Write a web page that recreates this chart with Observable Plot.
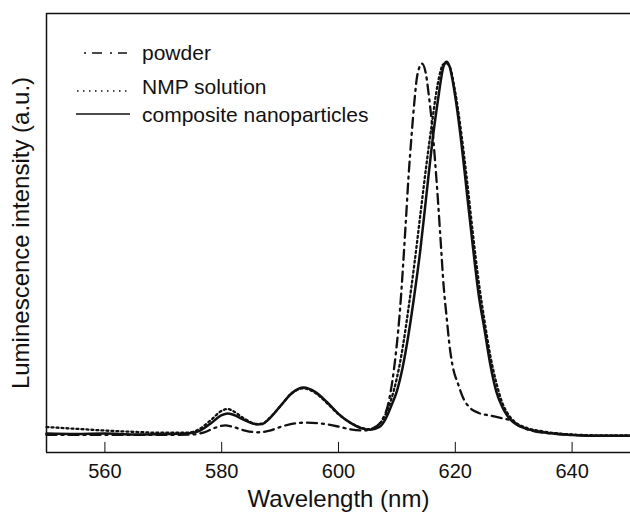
<!DOCTYPE html>
<html><head><meta charset="utf-8">
<script src="https://cdn.jsdelivr.net/npm/d3@7"></script>
<script src="https://cdn.jsdelivr.net/npm/@observablehq/plot@0.6"></script>
<style>
body{margin:0;background:#fff;}
#wrap{position:relative;width:630px;height:514px;font-family:"Liberation Sans",Arial,sans-serif;}
#legend{position:absolute;left:0;top:0;}
</style></head><body><div id="wrap"></div>
<script>
const seriesNames = ["powder", "NMP solution", "composite nanoparticles"];

const powderX = [550,560,570,575,577,579,580.6,582,584,586,588,590,592,594.5,597,600,602,604.3,606,607.5,608.5,609.5,610.5,611.5,612,612.5,613,613.5,614.3,615,615.5,616,616.5,617,617.5,618,618.5,619,619.5,620.5,621.5,622.5,624,626,628,629.5,631,633,636,640,645,650];
const powderY = [4.0,4.0,4.0,4.1,4.6,5.7,6.2,5.8,5.0,4.6,4.9,5.8,6.5,6.8,6.6,5.9,5.3,5.0,5.6,7.5,11,19,32,52,63,72,80,86,88.6,86,81,75,67,58,48,38,31,24.5,20,15.5,12,10.2,9.0,8.4,7.8,7.3,6.0,5.0,4.4,4.0,3.8,3.8];

const nmpX = [550,555,560,565,570,574,576,578,580,581,582,584,586,587,588,590,592,594,596,598,600,602,604,605.5,607,608,609,610,611,612,613,614,615,616,617,618,618.5,619,620,621,622,623,624,625,626,627,628,629,630,632,635,640,645,650];
const nmpY = [5.8,5.4,5.0,4.7,4.5,4.5,5.2,7.2,9.5,9.9,9.4,7.6,6.5,6.6,7.6,10.5,13.5,14.6,13.6,11.3,8.7,6.8,5.6,5.3,6.5,8.5,12,17,24,33,43,54,65,75,84,88.5,88.6,88,82,73,62,50,39,30,22,16,11.5,8.8,7.2,5.7,4.8,4.1,3.9,3.9];

const compX = [550,555,560,565,570,574,576,578,580,581,582,584,586,587,588,590,592,594,596,598,600,602,604,605.5,607,608,609,610,611,612,613,614,615,616,617,618,618.5,619,620,621,622,623,624,625,626,627,628,629,630,632,635,640,645,650];
const compY = [4.3,4.2,4.3,4.1,4.2,4.3,4.8,6.5,8.5,8.9,8.6,7.3,6.4,6.5,7.5,10.5,13.5,14.8,13.8,11.5,8.8,6.8,5.5,5.2,5.8,7.5,10.5,14,19.5,27,36,46,58,70,80,88,89,88,81,71,59,47,36,28,20,14,10.5,8.2,6.8,5.5,4.6,4.0,3.8,3.8];

const xTicks = [560, 580, 600, 620, 640];
const xDomain = [550, 650];
const yDomain = [0, 100];
const xTitle = "Wavelength (nm)";
const yTitle = "Luminescence intensity (a.u.)";

const toRows = (xs, ys, s) => xs.map((x, i) => ({series: s, x, y: ys[i]}));
const powder = toRows(powderX, powderY, seriesNames[0]);
const nmp = toRows(nmpX, nmpY, seriesNames[1]);
const comp = toRows(compX, compY, seriesNames[2]);

const ink = "#111";
const styles = [
  {dash: "10,5,2,5", width: 2.3, legDash: "2,6,10,8", legWidth: 1.6},
  {dash: "2,3", width: 2.3, legDash: "1.5,4.5", legWidth: 1.6},
  {dash: null, width: 2.5, legDash: null, legWidth: 1.6}
];
const tickLen = 2.3;

const plot = Plot.plot({
  width: 630, height: 514,
  marginLeft: 46, marginRight: 0, marginTop: 13, marginBottom: 62,
  style: {fontFamily: "Liberation Sans, Arial, sans-serif", fontSize: "20px", color: ink, background: "#fff"},
  x: {domain: xDomain, ticks: xTicks, tickSize: 0, tickPadding: 11, label: null},
  y: {domain: yDomain, axis: null},
  marks: [
    Plot.line(powder, {x: "x", y: "y", stroke: ink, strokeWidth: styles[0].width, strokeDasharray: styles[0].dash, curve: "monotone-x"}),
    Plot.line(nmp, {x: "x", y: "y", stroke: ink, strokeWidth: styles[1].width, strokeDasharray: styles[1].dash, curve: "monotone-x"}),
    Plot.line(comp, {x: "x", y: "y", stroke: ink, strokeWidth: styles[2].width, curve: "monotone-x"}),
    Plot.ruleY([yDomain[0]], {stroke: ink, strokeWidth: 1.5}),
    Plot.ruleY([yDomain[1]], {stroke: ink, strokeWidth: 1.5}),
    Plot.ruleX([xDomain[0]], {stroke: ink, strokeWidth: 1.5}),
    Plot.ruleX(xTicks, {x: d => d, y1: yDomain[0], y2: tickLen, stroke: ink, strokeWidth: 1}),
    Plot.text([xTitle], {text: d => d, frameAnchor: "bottom", textAnchor: "middle", dy: 54, fontSize: 24, fill: ink}),
    Plot.text([yTitle], {text: d => d, frameAnchor: "left", textAnchor: "middle", rotate: -90, dx: -25, fontSize: 24, fill: ink})
  ]
});

const wrap = document.getElementById("wrap");
wrap.appendChild(plot);

// legend overlay
const leg = d3.select(wrap).append("svg").attr("id", "legend")
  .attr("width", 400).attr("height", 140)
  .style("font-family", "Liberation Sans, Arial, sans-serif");
const rows = [
  {y: 53, tb: 59.5, x1: 84, x2: 127},
  {y: 91, tb: 93.5, x1: 77, x2: 128},
  {y: 114, tb: 121.5, x1: 76, x2: 130}
];
seriesNames.forEach((name, i) => {
  const r = rows[i];
  const ln = leg.append("line").attr("x1", r.x1).attr("x2", r.x2).attr("y1", r.y).attr("y2", r.y)
    .attr("stroke", ink).attr("stroke-width", styles[i].legWidth);
  if (styles[i].legDash) ln.attr("stroke-dasharray", styles[i].legDash);
  leg.append("text").attr("x", 142).attr("y", r.tb).attr("font-size", 21).attr("fill", ink).text(name);
});
</script>
</body></html>
